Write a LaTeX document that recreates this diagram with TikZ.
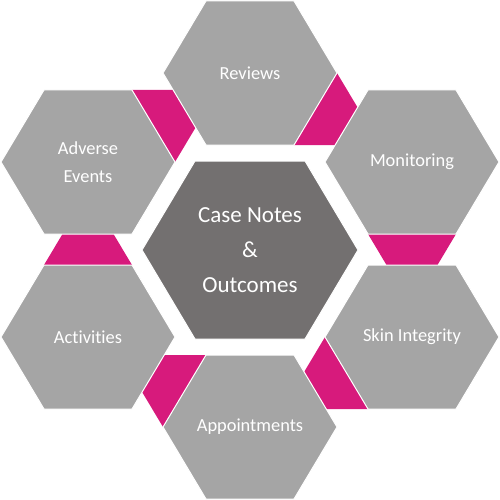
\documentclass[tikz,border=0pt]{standalone}
\usepackage{fontspec}
\setmainfont{Carlito}[Ligatures=NoCommon]
\usetikzlibrary{calc}
\definecolor{cellgray}{HTML}{A5A5A5}
\definecolor{hubgray}{HTML}{737070}
\definecolor{linkpink}{HTML}{D71A7C}
\begin{document}
\begin{tikzpicture}[x=1pt, y=-1pt,
    cell/.style={fill=cellgray, draw=white, line width=1pt},
    hub/.style={fill=hubgray, draw=white, line width=1pt},
    link/.style={fill=linkpink},
    tag/.style={text=white, align=center, font=\fontsize{18.4}{28}\selectfont},
    hubtag/.style={text=white, align=center, font=\fontsize{23}{35}\selectfont}]
  \useasboundingbox (0,0) rectangle (500,500);
  % corners of the six outer cells, numbered clockwise from the right
  \foreach \nm/\cx/\cy in {rev/250/73, mon/412/162, skin/412/337, appt/250/427, act/88/337, adv/88/162} {
    \coordinate (\nm-1) at (\cx+87,\cy);
    \coordinate (\nm-2) at (\cx+44,\cy+72);
    \coordinate (\nm-3) at (\cx-44,\cy+72);
    \coordinate (\nm-4) at (\cx-87,\cy);
    \coordinate (\nm-5) at (\cx-44,\cy-72);
    \coordinate (\nm-6) at (\cx+44,\cy-72);
  }
  % pink links, each one grown out of one edge
  \foreach \nm/\a/\b/\p/\q in {rev/1/2/6/3, mon/2/3/1/4, skin/3/4/2/5, appt/4/5/3/6, act/5/6/4/1, adv/6/1/5/2}
    \fill[link] (\nm-\a) -- (\nm-\b) -- ($(\nm-\b)!-0.6!(\nm-\q)$) -- ($(\nm-\a)!-0.6!(\nm-\p)$) -- cycle;
  \foreach \nm in {rev, mon, skin, appt, act, adv}
    \draw[cell] (\nm-1) -- (\nm-2) -- (\nm-3) -- (\nm-4) -- (\nm-5) -- (\nm-6) -- cycle;
  \draw[hub] (358,250) -- (305,339) -- (195,339) -- (142,250) -- (195,161) -- (305,161) -- cycle;
  \node[hubtag] (hub) at (250,250) {Case Notes\\\&\\Outcomes};
  \node[tag] (rev) at (250,73) {Reviews};
  \node[tag] (mon) at (412,162) {Monitoring};
  \node[tag] (skin) at (412,337) {Skin Integrity};
  \node[tag] (appt) at (250,427) {Appointments};
  \node[tag] (act) at (88,337) {Activities};
  \node[tag] (adv) at (88,162) {Adverse\\Events};
\end{tikzpicture}
\end{document}
